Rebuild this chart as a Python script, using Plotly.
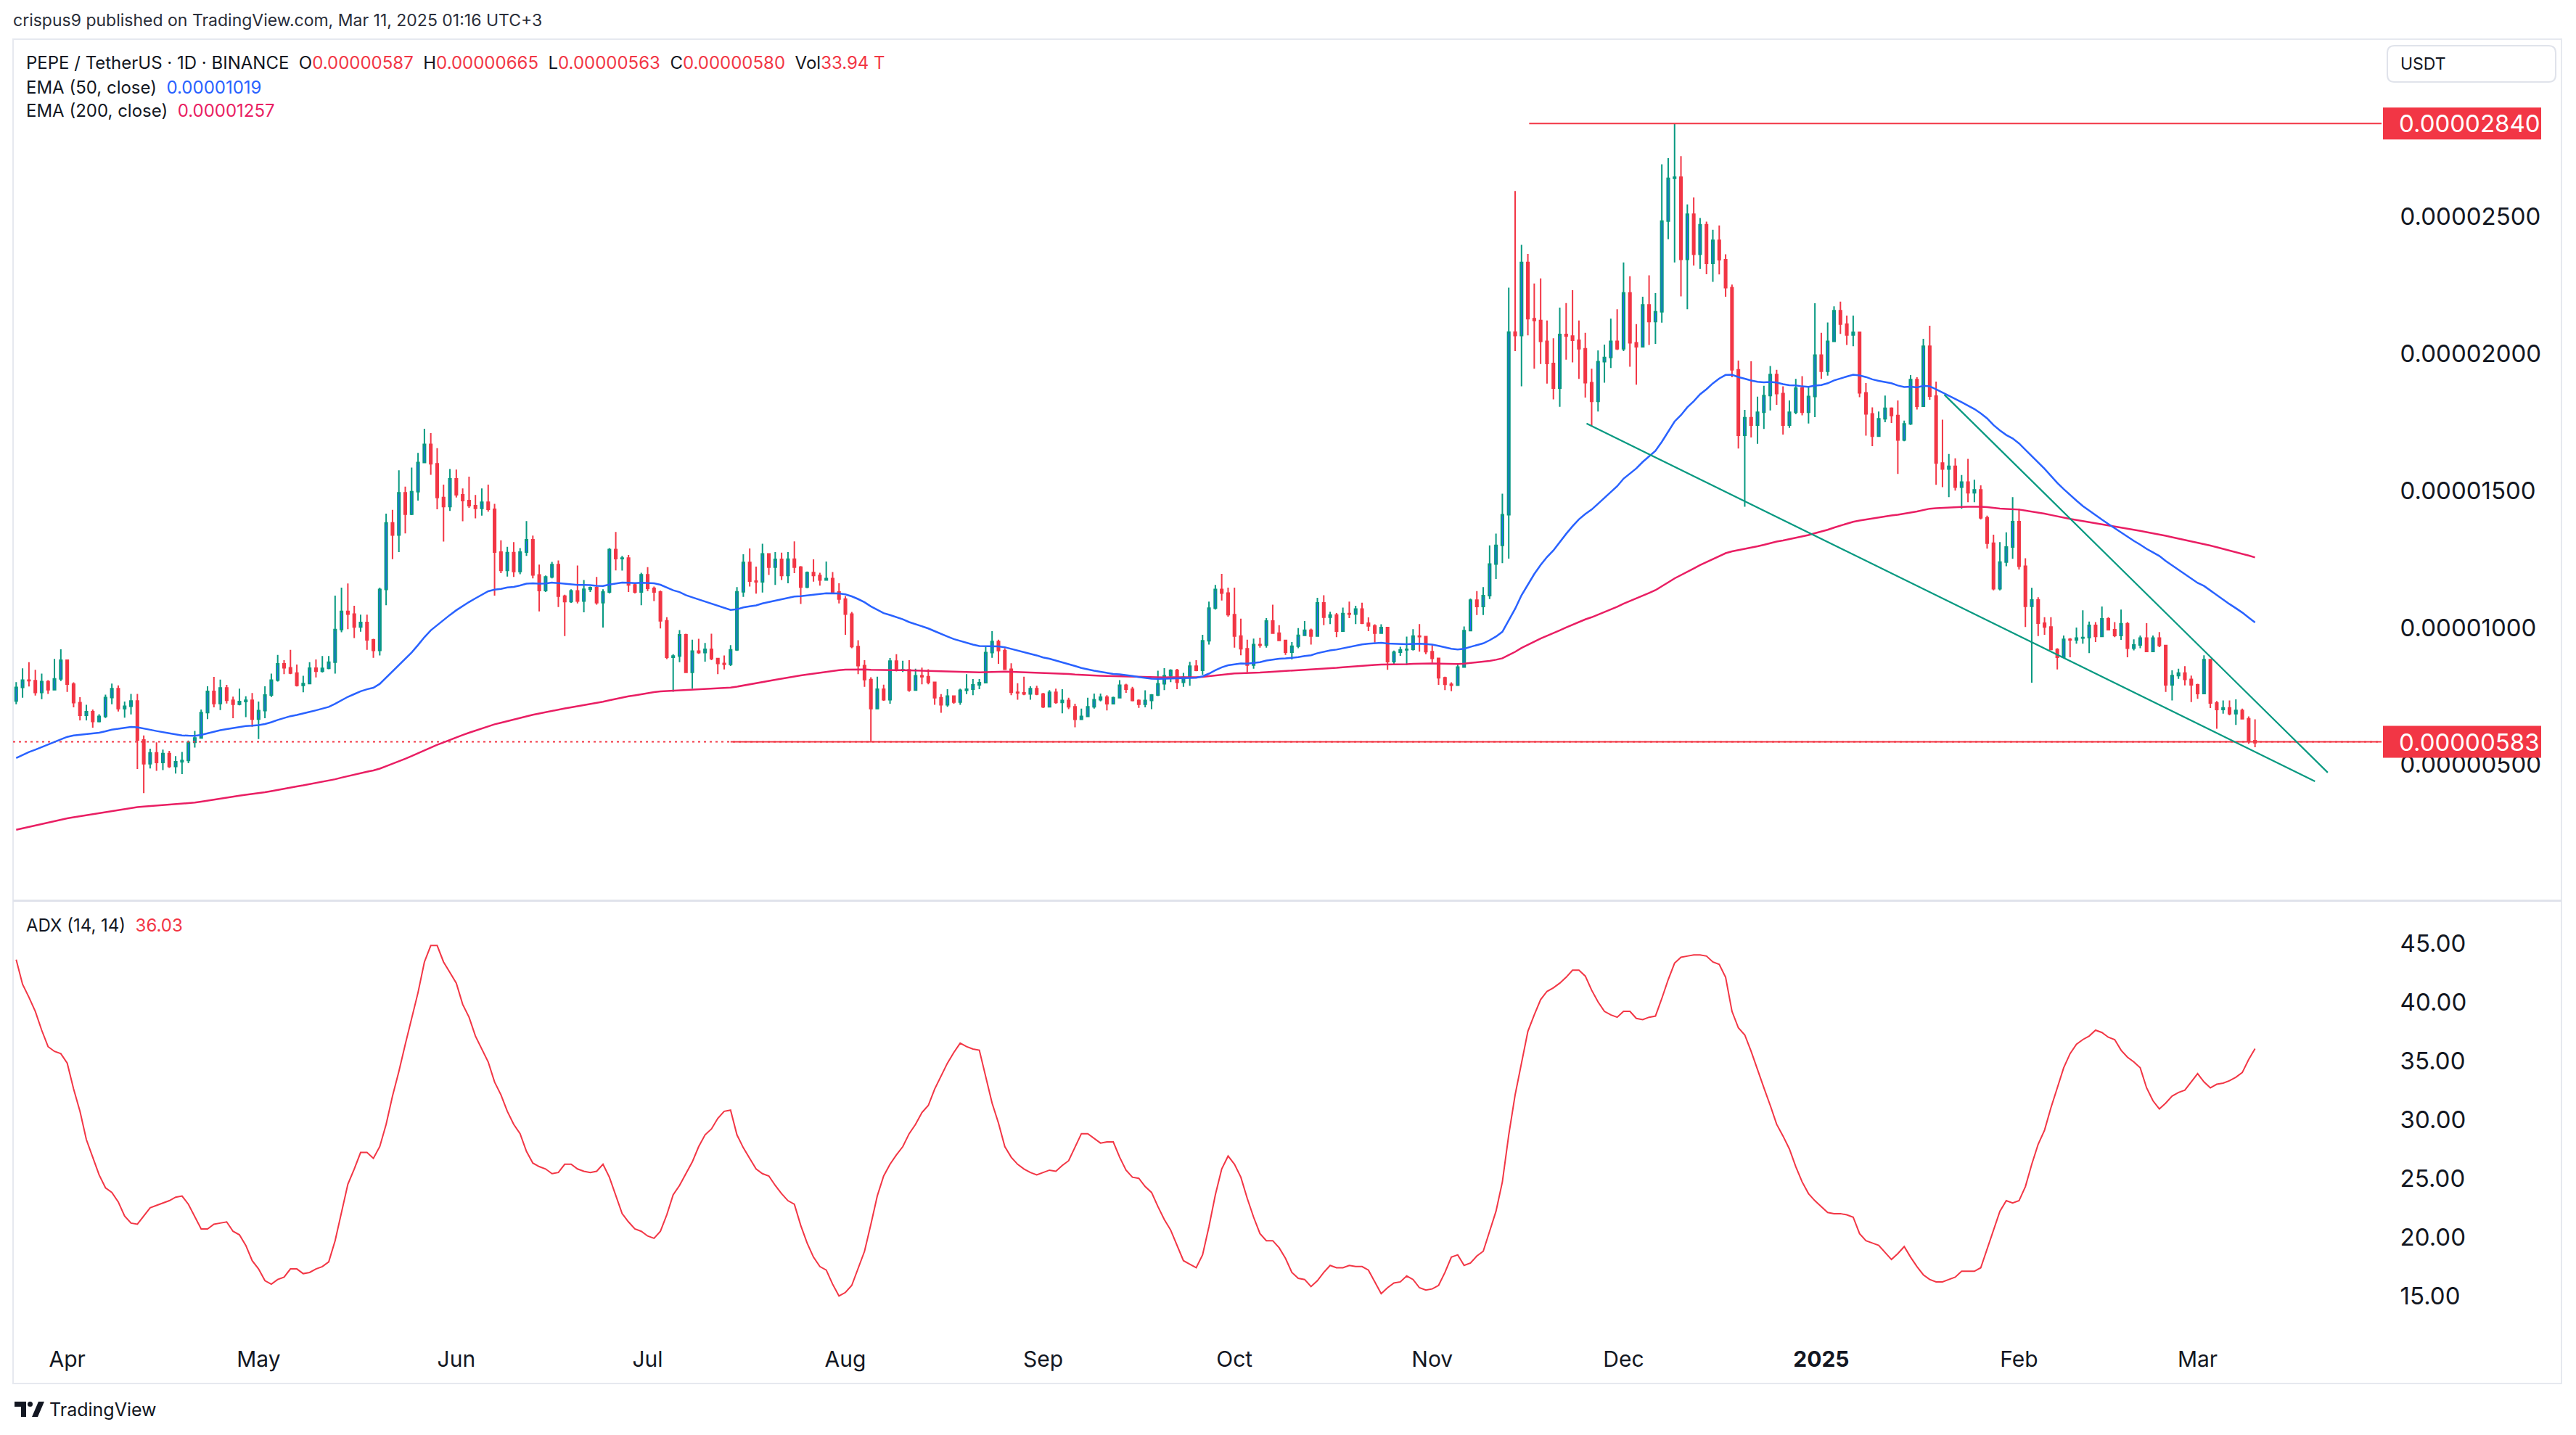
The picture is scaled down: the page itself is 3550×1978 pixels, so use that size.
import pandas as pd
import plotly.graph_objects as go

# ---------------- canvas / layout helpers ----------------
W, H = 3550, 1978
ML, MR, MT, MB = 18, 268, 54, 143
PW = W - ML - MR
PH = H - MT - MB


def px_x(px):
    return (px - ML) / PW


def px_y(py):
    return (H - MB - py) / PH


UNIT = 1e-8  # prices below are in units of 0.00000001 USDT

# ---------------- data ----------------
start_date = "2024-03-24"
first_open = 732

close_mar24 = [782, 808, 806, 763, 803, 773, 813, 881]
close_apr24 = [794, 726, 680, 693, 657, 676, 745, 777, 704, 713, 732, 590, 503, 543, 508, 540, 493, 510, 515, 581,
               597, 690, 767, 723, 780, 735, 720, 730, 735, 666]
close_may24 = [697, 754, 808, 868, 853, 834, 789, 796, 852, 841, 851, 874, 993, 1059, 1049, 1002, 1019, 955, 917, 1139,
               1382, 1338, 1492, 1414, 1496, 1603, 1669, 1598, 1475, 1442, 1543]
close_jun24 = [1485, 1464, 1445, 1435, 1458, 1432, 1276, 1209, 1274, 1205, 1276, 1321, 1192, 1135, 1185, 1230, 1115,
               1095, 1134, 1097, 1140, 1146, 1091, 1130, 1285, 1252, 1254, 1156, 1130, 1193]
close_jul24 = [1143, 1130, 1025, 892, 896, 974, 837, 914, 909, 921, 887, 869, 866, 919, 1131, 1238, 1170, 1167, 1269,
               1221, 1249, 1190, 1250, 1221, 1148, 1201, 1190, 1174, 1179, 1130, 1104]
close_aug24 = [1049, 931, 861, 810, 704, 775, 737, 878, 844, 846, 772, 824, 821, 800, 744, 718, 750, 728, 771, 775,
               791, 799, 909, 949, 916, 848, 764, 762, 758, 777, 757]
close_sep24 = [711, 764, 727, 734, 711, 665, 676, 711, 737, 746, 722, 744, 790, 775, 734, 720, 734, 754, 795, 824,
               844, 800, 819, 859, 844, 952, 1071, 1139, 1126, 1047]
close_oct24 = [969, 923, 863, 938, 936, 1024, 980, 953, 910, 932, 972, 990, 969, 1090, 1038, 1046, 987, 1051, 1049,
               1068, 1016, 1006, 980, 1000, 876, 910, 919, 921, 969, 967, 912]
close_nov24 = [888, 817, 793, 790, 856, 989, 1100, 1077, 1117, 1232, 1300, 1412, 2079, 2066, 2333, 2128, 2121, 2045,
               1964, 1874, 2070, 2064, 2049, 2018, 1894, 1826, 1971, 1986, 2045, 2018]
close_dec24 = [2222, 2040, 2025, 2178, 2117, 2153, 2484, 2640, 2644, 2344, 2509, 2363, 2471, 2330, 2414, 2343, 2241,
               1941, 1702, 1766, 1739, 1786, 1847, 1924, 1854, 1739, 1786, 1874, 1786, 1844, 1995]
close_jan25 = [1936, 2045, 2157, 2108, 2068, 2078, 1857, 1780, 1699, 1762, 1801, 1774, 1685, 1744, 1905, 1808, 2027,
               1845, 1601, 1579, 1589, 1513, 1531, 1492, 1503, 1401, 1308, 1142, 1239, 1294, 1387]
close_feb25 = [1224, 1078, 1101, 1016, 1002, 920, 892, 957, 955, 962, 964, 1008, 968, 1032, 992, 971, 1014, 925, 937,
               962, 913, 962, 935, 791, 825, 834, 811, 791]
close_mar25 = [759, 883, 725, 701, 707, 686, 698, 667, 587, 580]

high_mar24 = [801, 851, 874, 846, 832, 808, 886, 921]
high_apr24 = [881, 800, 746, 718, 701, 684, 755, 796, 789, 730, 758, 758, 606, 558, 581, 555, 550, 531, 546, 588,
              623, 701, 786, 820, 810, 791, 748, 777, 749, 761]
high_may24 = [730, 786, 832, 900, 881, 919, 865, 824, 874, 884, 896, 896, 1117, 1146, 1161, 1080, 1047, 1047, 959,
              1146, 1416, 1430, 1574, 1515, 1584, 1638, 1726, 1710, 1655, 1522, 1579]
high_jun24 = [1577, 1508, 1551, 1484, 1508, 1522, 1452, 1319, 1295, 1312, 1290, 1389, 1336, 1230, 1190, 1240, 1245,
              1120, 1140, 1227, 1174, 1150, 1185, 1140, 1290, 1349, 1262, 1265, 1160, 1200]
high_jul24 = [1221, 1150, 1135, 1038, 903, 991, 978, 956, 959, 944, 978, 890, 898, 936, 1148, 1268, 1289, 1223, 1306,
              1267, 1276, 1274, 1276, 1315, 1225, 1205, 1249, 1200, 1241, 1203, 1162]
high_aug24 = [1115, 1057, 954, 881, 819, 821, 792, 889, 903, 879, 881, 850, 854, 848, 802, 757, 775, 750, 777, 830,
              812, 812, 934, 987, 956, 925, 870, 797, 821, 786, 788]
high_sep24 = [762, 772, 777, 775, 744, 722, 704, 744, 759, 759, 753, 748, 808, 795, 784, 738, 771, 757, 843, 852,
              848, 849, 835, 875, 881, 974, 1095, 1156, 1196, 1146]
high_oct24 = [1146, 1033, 956, 960, 963, 1035, 1084, 1009, 953, 947, 998, 1024, 996, 1109, 1118, 1058, 1053, 1073,
              1095, 1080, 1091, 1037, 1012, 1012, 1000, 916, 930, 967, 994, 1013, 967]
high_nov24 = [936, 890, 821, 800, 870, 1004, 1106, 1133, 1148, 1300, 1343, 1489, 2241, 2594, 2397, 2364, 2256, 2275,
              2121, 2056, 2168, 2185, 2232, 2121, 2076, 1945, 2012, 2033, 2128, 2162]
high_dec24 = [2333, 2283, 2108, 2208, 2286, 2221, 2691, 2714, 2840, 2721, 2545, 2570, 2495, 2482, 2452, 2468, 2363,
              2252, 1975, 1795, 1972, 1843, 1883, 1955, 1941, 1881, 1829, 1908, 1918, 1881, 2184]
high_jan25 = [2076, 2114, 2173, 2190, 2139, 2139, 2080, 1893, 1804, 1789, 1847, 1804, 1829, 1756, 1922, 1914, 2054,
              2102, 1898, 1759, 1634, 1618, 1557, 1616, 1540, 1519, 1409, 1339, 1312, 1348, 1476]
high_feb25 = [1434, 1253, 1145, 1111, 1038, 1038, 925, 971, 962, 1000, 1063, 1022, 1020, 1077, 1038, 1020, 1066, 1020,
              957, 971, 1016, 971, 984, 937, 844, 850, 859, 825]
high_mar25 = [795, 899, 883, 732, 734, 734, 738, 704, 676, 665]

low_mar24 = [720, 744, 785, 752, 739, 758, 773, 805]
low_apr24 = [765, 709, 661, 661, 635, 654, 670, 720, 694, 671, 683, 484, 396, 486, 477, 480, 488, 467, 465, 505,
             562, 595, 666, 709, 699, 723, 669, 716, 673, 638]
low_may24 = [593, 669, 747, 803, 830, 830, 785, 764, 794, 818, 836, 848, 832, 983, 994, 962, 985, 919, 890, 898,
             1082, 1250, 1276, 1344, 1411, 1464, 1600, 1558, 1432, 1314, 1426]
low_jun24 = [1475, 1388, 1437, 1399, 1409, 1423, 1117, 1199, 1186, 1185, 1195, 1262, 1180, 1059, 1130, 1180, 1075, 969,
             1090, 1088, 1056, 1130, 1084, 1000, 1125, 1209, 1208, 1130, 1125, 1082]
low_jul24 = [1133, 1097, 997, 885, 766, 874, 834, 777, 904, 876, 881, 830, 847, 860, 915, 1112, 1150, 1124, 1128, 1192,
             1156, 1174, 1162, 1199, 1086, 1144, 1168, 1153, 1172, 1128, 1088]
low_aug24 = [974, 925, 830, 784, 585, 704, 733, 722, 840, 838, 766, 772, 793, 793, 718, 689, 711, 722, 718, 757,
             753, 775, 797, 890, 868, 846, 753, 737, 753, 737, 753]
low_sep24 = [706, 709, 722, 687, 702, 636, 665, 676, 704, 731, 698, 722, 742, 762, 731, 707, 709, 702, 750, 772,
             801, 775, 784, 788, 841, 828, 938, 1066, 1099, 1040]
low_oct24 = [927, 899, 837, 850, 927, 927, 978, 951, 900, 884, 925, 969, 938, 967, 1009, 1013, 965, 985, 1035, 1013,
             1013, 987, 945, 978, 846, 868, 897, 863, 916, 912, 903]
low_nov24 = [872, 791, 772, 768, 787, 855, 987, 1046, 1046, 1104, 1178, 1235, 1252, 2009, 1881, 2067, 1945, 1962, 1891,
             1833, 1806, 1978, 1968, 1908, 1840, 1735, 1789, 1894, 1948, 2013]
low_dec24 = [2009, 1952, 1887, 2025, 2032, 2036, 2113, 2418, 2333, 2209, 2162, 2322, 2309, 2290, 2262, 2289, 2208, 1914,
             1654, 1441, 1694, 1671, 1725, 1793, 1813, 1705, 1729, 1779, 1775, 1745, 1768]
low_jan25 = [1908, 1920, 2044, 2072, 2032, 2027, 1841, 1701, 1662, 1699, 1750, 1747, 1561, 1680, 1740, 1796, 1808, 1832,
             1521, 1513, 1476, 1500, 1434, 1458, 1458, 1395, 1288, 1136, 1136, 1224, 1251]
low_feb25 = [1212, 1002, 799, 969, 974, 917, 847, 892, 892, 941, 941, 907, 947, 965, 990, 965, 955, 892, 917, 925,
             911, 911, 929, 765, 734, 813, 789, 728]
low_mar25 = [740, 759, 706, 631, 686, 680, 645, 665, 576, 563]

adx_mar24 = [43.6, 41.5, 40.4, 39.2, 37.6, 36.2, 35.8, 35.6]
adx_apr24 = [34.8, 32.6, 30.7, 28.3, 26.8, 25.3, 24.2, 23.8, 23.0, 21.8, 21.2, 21.1, 21.8, 22.5, 22.7, 22.9, 23.1,
             23.4, 23.5, 22.8, 21.7, 20.7, 20.7, 21.1, 21.2, 21.3, 20.5, 20.2, 19.3, 18.0]
adx_may24 = [17.3, 16.3, 16.0, 16.4, 16.6, 17.3, 17.3, 16.9, 17.0, 17.3, 17.5, 17.9, 19.7, 22.2, 24.5, 25.8, 27.2,
             27.2, 26.7, 27.7, 29.6, 32.0, 34.1, 36.4, 38.7, 40.8, 43.4, 44.8, 44.8, 43.4, 42.5]
adx_jun24 = [41.6, 39.8, 38.7, 37.1, 36.0, 34.9, 33.2, 32.1, 30.7, 29.6, 28.8, 27.3, 26.3, 26.0, 25.8, 25.4, 25.5,
             26.2, 26.2, 25.8, 25.6, 25.5, 25.6, 26.2, 25.1, 23.5, 22.0, 21.3, 20.7, 20.5]
adx_jul24 = [20.1, 19.9, 20.5, 21.9, 23.6, 24.4, 25.4, 26.4, 27.7, 28.7, 29.2, 30.1, 30.7, 30.8, 28.7, 27.6, 26.7,
             25.8, 25.4, 25.2, 24.4, 23.7, 23.1, 22.8, 21.0, 19.5, 18.3, 17.5, 17.2, 16.0, 15.0]
adx_aug24 = [15.3, 15.9, 17.3, 18.8, 21.1, 23.5, 25.2, 26.2, 27.0, 27.7, 28.8, 29.6, 30.6, 31.2, 32.6, 33.7, 34.8,
             35.7, 36.5, 36.2, 36.0, 35.9, 33.7, 31.4, 29.7, 27.7, 26.8, 26.2, 25.8, 25.5, 25.3]
adx_sep24 = [25.5, 25.7, 25.6, 26.1, 26.5, 27.7, 28.8, 28.8, 28.4, 28.0, 28.1, 28.1, 26.8, 25.7, 25.1, 25.0, 24.3,
             23.8, 22.6, 21.5, 20.6, 19.3, 18.0, 17.7, 17.4, 18.5, 20.9, 23.6, 25.8, 26.9]
adx_oct24 = [26.2, 25.1, 23.3, 21.7, 20.3, 19.7, 19.7, 19.1, 18.2, 17.0, 16.5, 16.4, 15.8, 16.3, 17.0, 17.6, 17.4,
             17.4, 17.6, 17.5, 17.5, 17.2, 16.2, 15.2, 15.7, 16.1, 16.2, 16.7, 16.4, 15.7, 15.5]
adx_nov24 = [15.6, 15.9, 17.0, 18.3, 18.5, 17.6, 17.8, 18.4, 18.8, 20.5, 22.2, 24.7, 28.7, 32.1, 34.9, 37.5, 38.9,
             40.2, 40.9, 41.2, 41.6, 42.1, 42.7, 42.7, 42.2, 41.0, 40.0, 39.2, 38.9, 38.7]
adx_dec24 = [39.2, 39.2, 38.6, 38.5, 38.7, 38.8, 40.3, 41.9, 43.3, 43.8, 43.9, 44.0, 44.0, 43.9, 43.4, 43.2, 42.1,
             39.2, 37.8, 37.2, 35.8, 34.2, 32.7, 31.2, 29.6, 28.6, 27.5, 26.0, 24.7, 23.7, 23.1]
adx_jan25 = [22.6, 22.1, 22.0, 22.0, 21.9, 21.7, 20.3, 19.7, 19.5, 19.3, 18.7, 18.1, 18.6, 19.2, 18.3, 17.5, 16.8,
             16.4, 16.2, 16.2, 16.4, 16.6, 17.1, 17.1, 17.1, 17.4, 19.0, 20.6, 22.2, 23.1, 22.9]
adx_feb25 = [23.1, 24.3, 26.2, 27.9, 29.1, 31.0, 32.7, 34.4, 35.6, 36.4, 36.8, 37.1, 37.6, 37.4, 37.0, 36.8, 35.9,
             35.3, 34.9, 34.4, 32.7, 31.6, 30.9, 31.4, 32.0, 32.3, 32.5, 33.2]
adx_mar25 = [33.9, 33.2, 32.7, 33.0, 33.1, 33.3, 33.6, 34.0, 35.1, 36.03]

# EMA starting values read at the first candle
ema50_seed = 524
ema200_seed = 262

# drawings (day offset from 2024-04-01, price)
lower_trend_days = [238.2, 352.4]
lower_trend_prices = [1745, 439]
upper_trend_days = [294.3, 354.4]
upper_trend_prices = [1850, 471]
top_ray_day, top_ray_price = 229.2, 2840
bottom_ray_day, bottom_ray_price = 104.0, 583
last_price = 583

month_ticks = ["2024-04-01", "2024-05-01", "2024-06-01", "2024-07-01", "2024-08-01", "2024-09-01",
               "2024-10-01", "2024-11-01", "2024-12-01", "2025-01-01", "2025-02-01", "2025-03-01"]
month_labels = ["Apr", "May", "Jun", "Jul", "Aug", "Sep", "Oct", "Nov", "Dec", "<b>2025</b>", "Feb", "Mar"]
price_ticks = [500, 1000, 1500, 2000, 2500]
adx_ticks = [15, 20, 25, 30, 35, 40, 45]

legend_ohlc = ["0.00000587", "0.00000665", "0.00000563", "0.00000580", "33.94 T"]
legend_ema50 = "0.00001019"
legend_ema200 = "0.00001257"
legend_adx = "36.03"

# ---------------- assemble ----------------
close_p = (close_mar24 + close_apr24 + close_may24 + close_jun24 + close_jul24 + close_aug24 + close_sep24 +
           close_oct24 + close_nov24 + close_dec24 + close_jan25 + close_feb25 + close_mar25)
high_p = (high_mar24 + high_apr24 + high_may24 + high_jun24 + high_jul24 + high_aug24 + high_sep24 +
          high_oct24 + high_nov24 + high_dec24 + high_jan25 + high_feb25 + high_mar25)
low_p = (low_mar24 + low_apr24 + low_may24 + low_jun24 + low_jul24 + low_aug24 + low_sep24 +
         low_oct24 + low_nov24 + low_dec24 + low_jan25 + low_feb25 + low_mar25)
adx = (adx_mar24 + adx_apr24 + adx_may24 + adx_jun24 + adx_jul24 + adx_aug24 + adx_sep24 + adx_oct24 +
       adx_nov24 + adx_dec24 + adx_jan25 + adx_feb25 + adx_mar25)

n = len(close_p)
assert len(high_p) == n and len(low_p) == n and len(adx) == n, (n, len(high_p), len(low_p), len(adx))

dates = pd.date_range(start_date, periods=n, freq="D")
open_p = [first_open] + close_p[:-1]
high_p = [max(h, o, c) for h, o, c in zip(high_p, open_p, close_p)]
low_p = [min(l, o, c) for l, o, c in zip(low_p, open_p, close_p)]


def ema(values, length, seed):
    a = 2.0 / (length + 1)
    out = [seed]
    for v in values[1:]:
        out.append(out[-1] + a * (v - out[-1]))
    return out


ema50 = ema(close_p, 50, ema50_seed)
ema200 = ema(close_p, 200, ema200_seed)

base = pd.Timestamp("2024-04-01")


def day(d):
    return base + pd.to_timedelta(d, unit="D")


x_start = pd.Timestamp("2024-03-23 12:15")
x_end = pd.Timestamp("2025-03-29 20:00")

RED = "#F23645"
GREEN = "#089981"
BLUE = "#2962FF"
PINK = "#E91E63"
TXT = "#131722"
FONT = "Inter"

fig = go.Figure()

# dotted last-price line across whole pane
fig.add_trace(go.Scatter(x=[x_start, x_end], y=[last_price * UNIT] * 2, mode="lines",
                         line=dict(color=RED, width=2, dash="3px,5px"), hoverinfo="skip",
                         xaxis="x", yaxis="y"))
# solid horizontal rays
fig.add_trace(go.Scatter(x=[day(bottom_ray_day), x_end], y=[bottom_ray_price * UNIT] * 2, mode="lines",
                         line=dict(color=RED, width=2), hoverinfo="skip", xaxis="x", yaxis="y"))
fig.add_trace(go.Scatter(x=[day(top_ray_day), x_end], y=[top_ray_price * UNIT] * 2, mode="lines",
                         line=dict(color=RED, width=2), hoverinfo="skip", xaxis="x", yaxis="y"))

# EMAs
fig.add_trace(go.Scatter(x=dates, y=[v * UNIT for v in ema200], mode="lines",
                         line=dict(color=PINK, width=2.5), hoverinfo="skip", xaxis="x", yaxis="y"))
fig.add_trace(go.Scatter(x=dates, y=[v * UNIT for v in ema50], mode="lines",
                         line=dict(color=BLUE, width=2.5), hoverinfo="skip", xaxis="x", yaxis="y"))

# candles
fig.add_trace(go.Candlestick(
    x=dates,
    open=[v * UNIT for v in open_p], high=[v * UNIT for v in high_p],
    low=[v * UNIT for v in low_p], close=[v * UNIT for v in close_p],
    increasing=dict(line=dict(color=GREEN, width=2), fillcolor=BLUE),
    decreasing=dict(line=dict(color=RED, width=2), fillcolor=RED),
    whiskerwidth=0, xaxis="x", yaxis="y", hoverinfo="skip"))

# trend lines
fig.add_trace(go.Scatter(x=[day(d) for d in lower_trend_days], y=[p * UNIT for p in lower_trend_prices],
                         mode="lines", line=dict(color=GREEN, width=2.2), hoverinfo="skip",
                         xaxis="x", yaxis="y"))
fig.add_trace(go.Scatter(x=[day(d) for d in upper_trend_days], y=[p * UNIT for p in upper_trend_prices],
                         mode="lines", line=dict(color=GREEN, width=2.2), hoverinfo="skip",
                         xaxis="x", yaxis="y"))

# ADX
fig.add_trace(go.Scatter(x=dates, y=adx, mode="lines", line=dict(color=RED, width=2),
                         hoverinfo="skip", xaxis="x2", yaxis="y2"))

# ---------------- shapes ----------------
shapes = []
# outer frame
shapes.append(dict(type="rect", xref="paper", yref="paper", x0=px_x(18), x1=px_x(3530),
                   y0=px_y(54), y1=px_y(1907), line=dict(color="#E6E9EF", width=2), layer="below"))
# pane separator
shapes.append(dict(type="line", xref="paper", yref="paper", x0=px_x(18), x1=px_x(3530),
                   y0=px_y(1241.5), y1=px_y(1241.5), line=dict(color="#E0E3EB", width=3)))


def rounded_rect(x0, y0, x1, y1, r):
    pts = [
        ("M", x0 + r, y0), ("L", x1 - r, y0), ("Q", x1, y0, x1, y0 + r), ("L", x1, y1 - r),
        ("Q", x1, y1, x1 - r, y1), ("L", x0 + r, y1), ("Q", x0, y1, x0, y1 - r), ("L", x0, y0 + r),
        ("Q", x0, y0, x0 + r, y0)]
    s = ""
    for p in pts:
        cmd = p[0]
        coords = p[1:]
        parts = []
        for i in range(0, len(coords), 2):
            parts.append(f"{px_x(coords[i]):.6f},{px_y(coords[i + 1]):.6f}")
        s += cmd + " " + " ".join(parts) + " "
    return s + "Z"


# USDT button
shapes.append(dict(type="path", xref="paper", yref="paper", path=rounded_rect(3290, 63, 3522, 113, 10),
                   fillcolor="white", line=dict(color="#E0E3EB", width=2), layer="above"))

# price tags
for price in (top_ray_price, last_price):
    shapes.append(dict(type="rect", xref="paper", yref="y", ysizemode="pixel", yanchor=price * UNIT,
                       x0=px_x(3284), x1=px_x(3502), y0=-22, y1=22, fillcolor=RED,
                       line=dict(width=0), layer="above"))

# TradingView logo glyph
LOGO = TXT
shapes.append(dict(type="rect", xref="paper", yref="paper", x0=px_x(20), x1=px_x(36), y0=px_y(1932),
                   y1=px_y(1939), fillcolor=LOGO, line=dict(width=0)))
shapes.append(dict(type="rect", xref="paper", yref="paper", x0=px_x(29), x1=px_x(36), y0=px_y(1932),
                   y1=px_y(1953), fillcolor=LOGO, line=dict(width=0)))
shapes.append(dict(type="circle", xref="paper", yref="paper", x0=px_x(38), x1=px_x(45), y0=px_y(1932),
                   y1=px_y(1939), fillcolor=LOGO, line=dict(width=0)))
shapes.append(dict(type="path", xref="paper", yref="paper",
                   path=(f"M {px_x(44):.6f},{px_y(1953):.6f} L {px_x(52):.6f},{px_y(1953):.6f} "
                         f"L {px_x(61):.6f},{px_y(1932):.6f} L {px_x(53):.6f},{px_y(1932):.6f} Z"),
                   fillcolor=LOGO, line=dict(width=0)))

# ---------------- annotations ----------------
NB = "\u00a0"


def red(t):
    return f"<span style='color:{RED}'>{t}</span>"


line1 = (f"PEPE / TetherUS · 1D · BINANCE{NB}{NB}O{red(legend_ohlc[0])}{NB}{NB}H{red(legend_ohlc[1])}"
         f"{NB}{NB}L{red(legend_ohlc[2])}{NB}{NB}C{red(legend_ohlc[3])}{NB}{NB}Vol{red(legend_ohlc[4])}")
line2 = f"EMA (50, close){NB}{NB}<span style='color:{BLUE}'>{legend_ema50}</span>"
line3 = f"EMA (200, close){NB}{NB}<span style='color:{PINK}'>{legend_ema200}</span>"
line4 = f"ADX (14, 14){NB}{NB}{red(legend_adx)}"

ann = []


def text(x, y, t, size, color=TXT, anchor="left"):
    ann.append(dict(xref="paper", yref="paper", x=px_x(x), y=px_y(y), text=t, showarrow=False,
                    xanchor=anchor, yanchor="middle", font=dict(family=FONT, size=size, color=color)))


text(16, 28, "crispus9 published on TradingView.com, Mar 11, 2025 01:16 UTC+3", 23, "#2A2E39")
text(34, 86, line1, 24)
text(34, 120, line2, 24)
text(34, 153, line3, 24)
text(34, 1275, line4, 24)
text(3306, 88, "USDT", 23)
text(66, 1943, "TradingView", 25)

for price in (top_ray_price, last_price):
    ann.append(dict(xref="paper", yref="y", x=px_x(3304), y=price * UNIT, text=f"{price * UNIT:.8f}",
                    showarrow=False, xanchor="left", yanchor="middle",
                    font=dict(family=FONT, size=33, color="white")))

# ---------------- layout ----------------
main_bottom = px_y(1241)
adx_top = px_y(1242)

fig.update_layout(
    width=W, height=H,
    margin=dict(l=ML, r=MR, t=MT, b=MB, pad=0),
    paper_bgcolor="white", plot_bgcolor="white",
    showlegend=False,
    boxgap=0.5,
    font=dict(family=FONT, color=TXT),
    shapes=shapes, annotations=ann,
    xaxis=dict(domain=[0, 1], range=[x_start, x_end], anchor="y", showticklabels=False,
               showgrid=False, zeroline=False, showline=False, rangeslider=dict(visible=False),
               type="date"),
    xaxis2=dict(domain=[0, 1], range=[x_start, x_end], anchor="y2", matches="x",
                tickmode="array", tickvals=month_ticks, ticktext=month_labels,
                ticks="outside", ticklen=12, tickcolor="rgba(0,0,0,0)",
                tickfont=dict(family=FONT, size=30, color=TXT),
                showgrid=False, zeroline=False, showline=False, type="date"),
    yaxis=dict(domain=[main_bottom, 1], range=[4.5 * UNIT, 3148 * UNIT], side="right", anchor="x",
               tickmode="array", tickvals=[v * UNIT for v in price_ticks],
               ticktext=[f"{v * UNIT:.8f}" for v in price_ticks],
               ticks="outside", ticklen=18, tickcolor="rgba(0,0,0,0)",
               tickfont=dict(family=FONT, size=33, color=TXT),
               showgrid=False, zeroline=False, showline=False),
    yaxis2=dict(domain=[0, adx_top], range=[12.0, 48.58], side="right", anchor="x2",
                tickmode="array", tickvals=adx_ticks, ticktext=[f"{v:.2f}" for v in adx_ticks],
                ticks="outside", ticklen=18, tickcolor="rgba(0,0,0,0)",
                tickfont=dict(family=FONT, size=33, color=TXT),
                showgrid=False, zeroline=False, showline=False),
)

fig.write_html("out.html", config={"displayModeBar": False},
               post_script="document.body.style.margin='0';")
